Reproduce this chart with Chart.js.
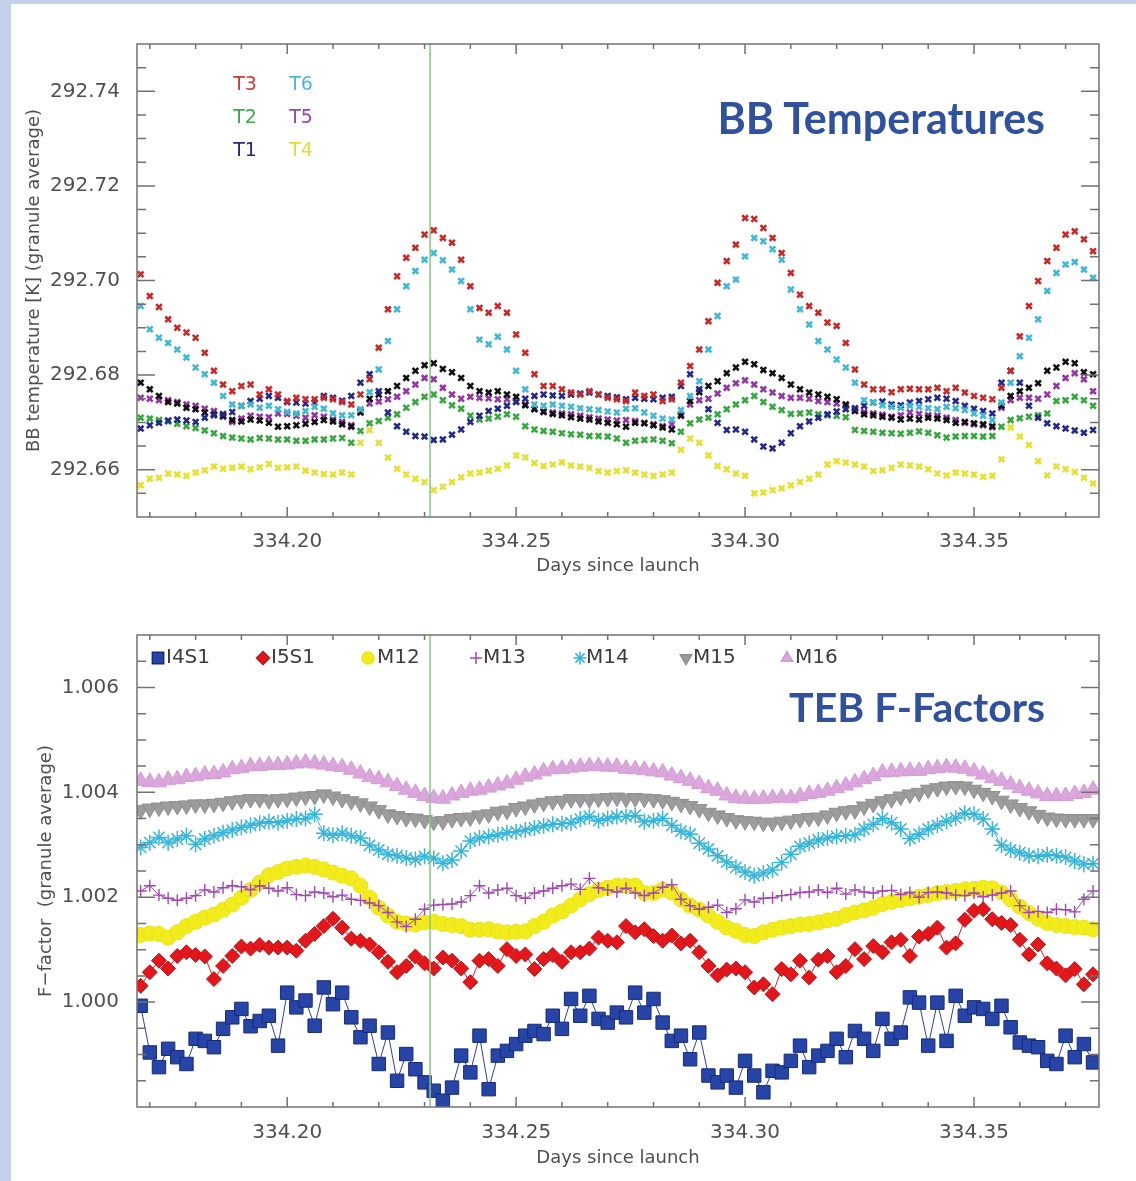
<!DOCTYPE html>
<html>
<head>
<meta charset="utf-8">
<title>BB Temperatures and TEB F-Factors</title>
<script src="https://cdn.jsdelivr.net/npm/chart.js@4.4.1/dist/chart.umd.min.js"></script>
<style>
  html, body { margin: 0; padding: 0; }
  body { width: 1136px; height: 1181px; background: #c5d1ec; position: relative; overflow: hidden; }
  #sheet { position: absolute; left: 11px; top: 4px; right: 0; bottom: 0; background: #fff; }
  canvas { position: absolute; left: 0; }
  .headline { position: absolute; font-family: Lato, sans-serif; font-weight: 700;
              line-height: 1; color: #2f51a0; white-space: nowrap; }
</style>
</head>
<body>
<div id="sheet"></div>
<canvas id="bbChart" width="1136" height="600" style="top:0"></canvas>
<canvas id="ffChart" width="1136" height="581" style="top:600px"></canvas>
<div class="headline" style="right:91px;top:96px;font-size:43px">BB Temperatures</div>
<div class="headline" style="right:91px;top:686px;font-size:41px">TEB F-Factors</div>
<script>
// sample times, days since launch (both panels)
const DAYS = [
  334.168,334.170,334.172,334.174,334.176,334.178,334.180,334.182,334.184,334.186,
  334.188,334.190,334.192,334.194,334.196,334.198,334.200,334.202,334.204,334.206,
  334.208,334.210,334.212,334.214,334.216,334.218,334.220,334.222,334.224,334.226,
  334.228,334.230,334.232,334.234,334.236,334.238,334.240,334.242,334.244,334.246,
  334.248,334.250,334.252,334.254,334.256,334.258,334.260,334.262,334.264,334.266,
  334.268,334.270,334.272,334.274,334.276,334.278,334.280,334.282,334.284,334.286,
  334.288,334.290,334.292,334.294,334.296,334.298,334.300,334.302,334.304,334.306,
  334.308,334.310,334.312,334.314,334.316,334.318,334.320,334.322,334.324,334.326,
  334.328,334.330,334.332,334.334,334.336,334.338,334.340,334.342,334.344,334.346,
  334.348,334.350,334.352,334.354,334.356,334.358,334.360,334.362,334.364,334.366,
  334.368,334.370,334.372,334.374,334.376
];
const MARK_DAY = 334.2312;   // green vertical marker
const X_MIN = 334.1672, X_MAX = 334.3773;

const X_TICKS = [334.20, 334.25, 334.30, 334.35];
const X_MINOR = [334.17,334.18,334.19,334.20,334.21,334.22,334.23,334.24,334.25,334.26,334.27,
                 334.28,334.29,334.30,334.31,334.32,334.33,334.34,334.35,334.36,334.37];
const BB_Y_TICKS = [292.66, 292.68, 292.70, 292.72, 292.74];
const BB_Y_MINOR = [292.655,292.660,292.665,292.670,292.675,292.680,292.685,292.690,292.695,292.700,
                    292.705,292.710,292.715,292.720,292.725,292.730,292.735,292.740,292.745];
const FF_Y_TICKS = [1.000, 1.002, 1.004, 1.006];
const FF_Y_MINOR = [0.9985,0.9990,0.9995,1.0000,1.0005,1.0010,1.0015,1.0020,1.0025,1.0030,
                    1.0035,1.0040,1.0045,1.0050,1.0055,1.0060,1.0065];

// BB temperatures [K], granule average
const BB_T3 = [
  292.7013,292.6967,292.6944,292.6918,292.6900,292.6890,292.6879,292.6847,292.6809,292.6780,
  292.6766,292.6777,292.6780,292.6759,292.6770,292.6759,292.6745,292.6752,292.6749,292.6749,
  292.6752,292.6749,292.6743,292.6738,292.6759,292.6791,292.6858,292.6939,292.7009,292.7048,
  292.7069,292.7097,292.7106,292.7090,292.7080,292.7044,292.6988,292.6942,292.6932,292.6946,
  292.6932,292.6886,292.6847,292.6802,292.6777,292.6777,292.6770,292.6763,292.6759,292.6766,
  292.6759,292.6752,292.6749,292.6745,292.6763,292.6756,292.6759,292.6745,292.6749,292.6784,
  292.6819,292.6854,292.6914,292.6995,292.7041,292.7076,292.7132,292.7130,292.7111,292.7090,
  292.7058,292.7016,292.6970,292.6946,292.6932,292.6911,292.6904,292.6868,292.6812,292.6780,
  292.6770,292.6770,292.6764,292.6770,292.6771,292.6770,292.6770,292.6773,292.6766,292.6773,
  292.6763,292.6756,292.6752,292.6749,292.6773,292.6809,292.6882,292.6946,292.6999,292.7041,
  292.7069,292.7097,292.7104,292.7087,292.7062
];
const BB_T6 = [
  292.6946,292.6897,292.6879,292.6868,292.6854,292.6837,292.6816,292.6802,292.6784,292.6756,
  292.6738,292.6735,292.6738,292.6731,292.6735,292.6728,292.6722,292.6719,292.6724,292.6733,
  292.6729,292.6719,292.6715,292.6715,292.6728,292.6764,292.6812,292.6872,292.6939,292.6988,
  292.7020,292.7044,292.7058,292.7043,292.7023,292.6999,292.6939,292.6875,292.6865,292.6881,
  292.6854,292.6809,292.6770,292.6738,292.6735,292.6738,292.6735,292.6733,292.6730,292.6728,
  292.6726,292.6723,292.6721,292.6729,292.6730,292.6721,292.6714,292.6708,292.6706,292.6726,
  292.6756,292.6787,292.6854,292.6925,292.6988,292.7002,292.7051,292.7090,292.7083,292.7066,
  292.7044,292.6981,292.6939,292.6907,292.6872,292.6854,292.6833,292.6816,292.6784,292.6747,
  292.6742,292.6736,292.6733,292.6731,292.6735,292.6733,292.6730,292.6728,292.6733,292.6730,
  292.6726,292.6719,292.6714,292.6705,292.6742,292.6784,292.6840,292.6879,292.6918,292.6978,
  292.7016,292.7034,292.7039,292.7023,292.7006
];
const BB_TAVG = [
  292.6784,292.6770,292.6756,292.6743,292.6740,292.6731,292.6728,292.6721,292.6717,292.6714,
  292.6705,292.6702,292.6706,292.6704,292.6699,292.6691,292.6692,292.6694,292.6697,292.6701,
  292.6705,292.6702,292.6696,292.6691,292.6721,292.6750,292.6759,292.6766,292.6777,292.6794,
  292.6809,292.6821,292.6825,292.6813,292.6806,292.6794,292.6777,292.6766,292.6763,292.6766,
  292.6759,292.6754,292.6736,292.6728,292.6722,292.6718,292.6715,292.6711,292.6708,292.6706,
  292.6702,292.6699,292.6696,292.6691,292.6699,292.6698,292.6694,292.6689,292.6685,292.6714,
  292.6745,292.6764,292.6777,292.6787,292.6804,292.6816,292.6828,292.6823,292.6811,292.6804,
  292.6794,292.6780,292.6770,292.6763,292.6759,292.6754,292.6749,292.6738,292.6724,292.6717,
  292.6715,292.6712,292.6710,292.6706,292.6708,292.6706,292.6710,292.6708,292.6705,292.6699,
  292.6701,292.6698,292.6696,292.6692,292.6735,292.6756,292.6766,292.6773,292.6783,292.6809,
  292.6816,292.6828,292.6825,292.6806,292.6802
];
const BB_T5 = [
  292.6752,292.6750,292.6747,292.6747,292.6743,292.6738,292.6735,292.6729,292.6724,292.6712,
  292.6701,292.6708,292.6714,292.6712,292.6711,292.6719,292.6718,292.6714,292.6710,292.6715,
  292.6712,292.6706,292.6701,292.6694,292.6724,292.6740,292.6744,292.6749,292.6754,292.6766,
  292.6780,292.6794,292.6791,292.6773,292.6759,292.6750,292.6754,292.6752,292.6751,292.6749,
  292.6749,292.6744,292.6738,292.6729,292.6724,292.6721,292.6719,292.6717,292.6714,292.6711,
  292.6708,292.6706,292.6704,292.6705,292.6703,292.6699,292.6696,292.6692,292.6696,292.6717,
  292.6738,292.6747,292.6750,292.6761,292.6773,292.6783,292.6789,292.6780,292.6770,292.6763,
  292.6756,292.6752,292.6752,292.6750,292.6745,292.6743,292.6740,292.6735,292.6728,292.6722,
  292.6719,292.6716,292.6712,292.6715,292.6721,292.6718,292.6715,292.6714,292.6710,292.6705,
  292.6699,292.6696,292.6694,292.6690,292.6731,292.6747,292.6752,292.6752,292.6750,292.6759,
  292.6777,292.6794,292.6804,292.6791,292.6766
];
const BB_T2 = [
  292.6710,292.6708,292.6705,292.6702,292.6697,292.6692,292.6688,292.6683,292.6677,292.6671,
  292.6668,292.6666,292.6664,292.6667,292.6666,292.6664,292.6664,292.6661,292.6661,292.6664,
  292.6664,292.6666,292.6667,292.6657,292.6682,292.6698,292.6703,292.6710,292.6717,292.6731,
  292.6743,292.6754,292.6759,292.6747,292.6736,292.6729,292.6714,292.6706,292.6708,292.6712,
  292.6717,292.6712,292.6692,292.6685,292.6682,292.6680,292.6677,292.6675,292.6674,292.6671,
  292.6671,292.6670,292.6666,292.6657,292.6661,292.6663,292.6664,292.6661,292.6656,292.6680,
  292.6698,292.6706,292.6710,292.6717,292.6728,292.6738,292.6747,292.6756,292.6743,292.6733,
  292.6726,292.6718,292.6719,292.6721,292.6717,292.6715,292.6714,292.6711,292.6684,292.6682,
  292.6680,292.6678,292.6677,292.6676,292.6678,292.6681,292.6678,292.6673,292.6668,292.6670,
  292.6671,292.6671,292.6670,292.6671,292.6691,292.6705,292.6709,292.6712,292.6715,292.6719,
  292.6745,292.6747,292.6754,292.6747,292.6735
];
const BB_T1 = [
  292.6687,292.6694,292.6699,292.6704,292.6706,292.6704,292.6701,292.6710,292.6715,292.6718,
  292.6722,292.6735,292.6745,292.6750,292.6756,292.6752,292.6743,292.6742,292.6740,292.6742,
  292.6756,292.6752,292.6746,292.6756,292.6784,292.6802,292.6766,292.6721,292.6692,292.6680,
  292.6671,292.6670,292.6663,292.6664,292.6674,292.6685,292.6701,292.6714,292.6724,292.6729,
  292.6735,292.6743,292.6750,292.6756,292.6759,292.6757,292.6756,292.6759,292.6761,292.6763,
  292.6759,292.6756,292.6753,292.6749,292.6752,292.6750,292.6749,292.6752,292.6754,292.6777,
  292.6802,292.6770,292.6728,292.6699,292.6684,292.6685,292.6680,292.6664,292.6649,292.6645,
  292.6657,292.6677,292.6692,292.6702,292.6710,292.6717,292.6723,292.6728,292.6730,292.6735,
  292.6742,292.6744,292.6738,292.6736,292.6742,292.6745,292.6749,292.6752,292.6750,292.6745,
  292.6735,292.6729,292.6724,292.6719,292.6784,292.6809,292.6784,292.6735,292.6710,292.6698,
  292.6692,292.6687,292.6683,292.6678,292.6684
];
const BB_T4 = [
  292.6567,292.6581,292.6583,292.6592,292.6590,292.6587,292.6594,292.6599,292.6607,292.6602,
  292.6604,292.6607,292.6601,292.6605,292.6612,292.6604,292.6605,292.6607,292.6598,292.6594,
  292.6591,292.6590,292.6594,292.6590,292.6657,292.6684,292.6657,292.6626,292.6602,292.6590,
  292.6581,292.6574,292.6557,292.6564,292.6574,292.6584,292.6592,292.6594,292.6598,292.6602,
  292.6609,292.6630,292.6626,292.6614,292.6608,292.6611,292.6616,292.6609,292.6607,292.6604,
  292.6597,292.6594,292.6597,292.6599,292.6594,292.6590,292.6587,292.6590,292.6594,292.6642,
  292.6666,292.6657,292.6630,292.6608,292.6601,292.6592,292.6587,292.6550,292.6552,292.6557,
  292.6561,292.6567,292.6574,292.6581,292.6590,292.6611,292.6618,292.6615,292.6611,292.6607,
  292.6597,292.6599,292.6604,292.6611,292.6609,292.6607,292.6601,292.6592,292.6588,292.6594,
  292.6592,292.6590,292.6585,292.6587,292.6622,292.6689,292.6670,292.6652,292.6618,292.6588,
  292.6607,292.6601,292.6595,292.6583,292.6571
];

// TEB F-factors, granule average
const FF_I4S1 = [
  0.99993,0.99904,0.99876,0.99911,0.99895,0.99882,0.99930,0.99926,0.99914,0.99949,
  0.99971,0.99987,0.99954,0.99964,0.99974,0.99917,1.00018,0.99990,1.00003,0.99955,
  1.00028,0.99996,1.00018,0.99971,0.99933,0.99955,0.99882,0.99942,0.99850,0.99901,
  0.99872,0.99847,0.99831,0.99812,0.99837,0.99898,0.99866,0.99936,0.99834,0.99898,
  0.99907,0.99920,0.99936,0.99945,0.99939,0.99974,0.99949,1.00006,0.99974,1.00012,
  0.99968,0.99961,0.99980,0.99971,1.00018,0.99980,1.00006,0.99961,0.99926,0.99936,
  0.99891,0.99942,0.99860,0.99847,0.99860,0.99837,0.99888,0.99860,0.99828,0.99869,
  0.99866,0.99888,0.99917,0.99876,0.99898,0.99907,0.99930,0.99895,0.99945,0.99930,
  0.99907,0.99968,0.99930,0.99942,1.00009,0.99999,0.99917,0.99999,0.99926,1.00012,
  0.99974,0.99990,0.99987,0.99968,0.99993,0.99952,0.99923,0.99917,0.99914,0.99888,
  0.99882,0.99936,0.99895,0.99920,0.99885
];
const FF_I5S1 = [
  1.00031,1.00057,1.00079,1.00064,1.00088,1.00095,1.00090,1.00087,1.00044,1.00069,
  1.00088,1.00106,1.00102,1.00109,1.00104,1.00104,1.00104,1.00098,1.00117,1.00130,
  1.00145,1.00159,1.00142,1.00121,1.00117,1.00110,1.00095,1.00077,1.00057,1.00069,
  1.00087,1.00074,1.00064,1.00085,1.00079,1.00064,1.00038,1.00079,1.00082,1.00069,
  1.00101,1.00088,1.00091,1.00063,1.00082,1.00090,1.00077,1.00095,1.00095,1.00102,
  1.00123,1.00117,1.00114,1.00145,1.00133,1.00139,1.00126,1.00117,1.00127,1.00112,
  1.00117,1.00095,1.00069,1.00051,1.00062,1.00064,1.00057,1.00028,1.00034,1.00015,
  1.00063,1.00053,1.00079,1.00047,1.00081,1.00088,1.00057,1.00069,1.00101,1.00082,
  1.00107,1.00095,1.00114,1.00119,1.00088,1.00125,1.00130,1.00142,1.00104,1.00112,
  1.00157,1.00174,1.00177,1.00158,1.00151,1.00147,1.00119,1.00091,1.00110,1.00074,
  1.00064,1.00051,1.00063,1.00034,1.00053
];
const FF_M12 = [
  1.00128,1.00131,1.00130,1.00123,1.00133,1.00145,1.00153,1.00161,1.00167,1.00176,
  1.00186,1.00199,1.00214,1.00228,1.00242,1.00248,1.00255,1.00258,1.00260,1.00258,
  1.00253,1.00247,1.00241,1.00236,1.00222,1.00199,1.00180,1.00165,1.00153,1.00150,
  1.00148,1.00152,1.00153,1.00149,1.00147,1.00145,1.00138,1.00138,1.00139,1.00135,
  1.00133,1.00134,1.00135,1.00145,1.00153,1.00165,1.00173,1.00184,1.00196,1.00206,
  1.00214,1.00218,1.00222,1.00222,1.00222,1.00208,1.00208,1.00215,1.00209,1.00196,
  1.00184,1.00176,1.00165,1.00153,1.00142,1.00136,1.00128,1.00126,1.00133,1.00138,
  1.00142,1.00145,1.00148,1.00149,1.00152,1.00156,1.00159,1.00166,1.00171,1.00175,
  1.00180,1.00187,1.00191,1.00195,1.00198,1.00201,1.00204,1.00208,1.00210,1.00212,
  1.00215,1.00216,1.00218,1.00217,1.00209,1.00196,1.00182,1.00170,1.00159,1.00151,
  1.00147,1.00145,1.00143,1.00142,1.00139
];
const FF_M13 = [
  1.00212,1.00222,1.00204,1.00198,1.00194,1.00198,1.00203,1.00214,1.00210,1.00218,
  1.00222,1.00220,1.00214,1.00222,1.00217,1.00212,1.00218,1.00205,1.00203,1.00210,
  1.00208,1.00201,1.00204,1.00196,1.00194,1.00189,1.00184,1.00171,1.00153,1.00144,
  1.00158,1.00177,1.00185,1.00186,1.00187,1.00191,1.00203,1.00222,1.00208,1.00214,
  1.00217,1.00203,1.00198,1.00208,1.00212,1.00217,1.00222,1.00225,1.00215,1.00236,
  1.00218,1.00214,1.00210,1.00217,1.00208,1.00203,1.00208,1.00219,1.00224,1.00196,
  1.00184,1.00177,1.00181,1.00185,1.00171,1.00178,1.00195,1.00191,1.00198,1.00199,
  1.00203,1.00205,1.00209,1.00210,1.00214,1.00209,1.00217,1.00206,1.00214,1.00210,
  1.00208,1.00212,1.00213,1.00205,1.00209,1.00200,1.00209,1.00210,1.00208,1.00204,
  1.00203,1.00208,1.00201,1.00204,1.00208,1.00212,1.00184,1.00171,1.00173,1.00171,
  1.00177,1.00176,1.00172,1.00196,1.00212
];
const FF_M14 = [
  1.00295,1.00304,1.00314,1.00304,1.00311,1.00317,1.00301,1.00311,1.00317,1.00323,
  1.00328,1.00333,1.00337,1.00341,1.00344,1.00342,1.00346,1.00349,1.00350,1.00358,
  1.00322,1.00318,1.00322,1.00317,1.00313,1.00299,1.00290,1.00282,1.00279,1.00275,
  1.00272,1.00278,1.00274,1.00265,1.00271,1.00288,1.00307,1.00313,1.00316,1.00319,
  1.00323,1.00325,1.00328,1.00332,1.00336,1.00339,1.00340,1.00342,1.00349,1.00354,
  1.00346,1.00350,1.00354,1.00354,1.00356,1.00344,1.00346,1.00350,1.00337,1.00326,
  1.00320,1.00303,1.00292,1.00279,1.00267,1.00257,1.00248,1.00241,1.00246,1.00252,
  1.00266,1.00282,1.00297,1.00303,1.00309,1.00313,1.00316,1.00317,1.00319,1.00330,
  1.00339,1.00350,1.00342,1.00330,1.00312,1.00320,1.00330,1.00337,1.00345,1.00351,
  1.00360,1.00358,1.00349,1.00330,1.00299,1.00290,1.00285,1.00279,1.00278,1.00281,
  1.00279,1.00276,1.00269,1.00263,1.00264
];
const FF_M15 = [
  1.00366,1.00369,1.00371,1.00373,1.00374,1.00375,1.00377,1.00377,1.00378,1.00380,
  1.00383,1.00385,1.00387,1.00387,1.00385,1.00387,1.00388,1.00390,1.00392,1.00393,
  1.00396,1.00392,1.00387,1.00383,1.00379,1.00373,1.00366,1.00358,1.00355,1.00351,
  1.00350,1.00347,1.00344,1.00345,1.00349,1.00351,1.00352,1.00356,1.00358,1.00363,
  1.00365,1.00370,1.00373,1.00377,1.00380,1.00383,1.00384,1.00387,1.00387,1.00387,
  1.00388,1.00389,1.00390,1.00388,1.00389,1.00388,1.00387,1.00385,1.00382,1.00378,
  1.00374,1.00368,1.00361,1.00356,1.00351,1.00347,1.00345,1.00344,1.00342,1.00342,
  1.00344,1.00346,1.00349,1.00351,1.00352,1.00356,1.00361,1.00364,1.00366,1.00373,
  1.00378,1.00383,1.00387,1.00392,1.00396,1.00399,1.00405,1.00408,1.00411,1.00412,
  1.00411,1.00405,1.00399,1.00393,1.00384,1.00377,1.00370,1.00364,1.00357,1.00352,
  1.00350,1.00349,1.00349,1.00349,1.00349
];
const FF_M16 = [
  1.00422,1.00420,1.00419,1.00424,1.00425,1.00429,1.00431,1.00434,1.00435,1.00438,
  1.00444,1.00446,1.00450,1.00450,1.00452,1.00452,1.00453,1.00455,1.00457,1.00455,
  1.00453,1.00450,1.00448,1.00443,1.00436,1.00429,1.00425,1.00419,1.00412,1.00405,
  1.00399,1.00393,1.00389,1.00388,1.00394,1.00399,1.00403,1.00405,1.00409,1.00413,
  1.00417,1.00424,1.00430,1.00434,1.00440,1.00444,1.00445,1.00447,1.00449,1.00450,
  1.00450,1.00449,1.00449,1.00445,1.00444,1.00443,1.00440,1.00438,1.00432,1.00427,
  1.00422,1.00416,1.00408,1.00403,1.00394,1.00389,1.00388,1.00387,1.00388,1.00389,
  1.00390,1.00389,1.00393,1.00397,1.00399,1.00403,1.00408,1.00413,1.00419,1.00425,
  1.00431,1.00438,1.00439,1.00440,1.00441,1.00441,1.00444,1.00446,1.00448,1.00447,
  1.00445,1.00440,1.00434,1.00427,1.00422,1.00415,1.00408,1.00403,1.00398,1.00393,
  1.00393,1.00393,1.00397,1.00399,1.00405
];

const TICK_FONT = {family: 'DejaVu Sans', size: 20};
const TITLE_FONT = {family: 'DejaVu Sans', size: 18};
const TEXT_GREY = '#4f4f4f';
const AXIS_GREY = '#727272';

function pts(values) {
    return values.map((v, i) => ({x: DAYS[i], y: v}));
}

// IDL style frame: box with inward ticks on every side, marker line, legend inside the plot
const idlFrame = {
    id: 'idlFrame',
    afterDatasetsDraw(chart, args, opts) {
        const ctx = chart.ctx;
        const a = chart.chartArea;
        const xs = chart.scales.x, ys = chart.scales.y;
        ctx.save();

        const mx = xs.getPixelForValue(MARK_DAY);
        ctx.strokeStyle = '#86c686';
        ctx.lineWidth = 1.5;
        ctx.beginPath();
        ctx.moveTo(mx, a.top);
        ctx.lineTo(mx, a.bottom);
        ctx.stroke();

        ctx.strokeStyle = AXIS_GREY;
        ctx.lineWidth = 1.5;
        ctx.strokeRect(a.left, a.top, a.right - a.left, a.bottom - a.top);
        ctx.beginPath();
        const xt = (vals, len) => vals.forEach(v => {
            const px = xs.getPixelForValue(v);
            if (px <= a.left || px >= a.right) return;
            ctx.moveTo(px, a.bottom); ctx.lineTo(px, a.bottom - len);
            ctx.moveTo(px, a.top); ctx.lineTo(px, a.top + len);
        });
        const yt = (vals, len) => vals.forEach(v => {
            const py = ys.getPixelForValue(v);
            if (py <= a.top || py >= a.bottom) return;
            ctx.moveTo(a.left, py); ctx.lineTo(a.left + len, py);
            ctx.moveTo(a.right, py); ctx.lineTo(a.right - len, py);
        });
        xt(X_TICKS, 10);
        xt(X_MINOR, 5);
        yt(opts.yMajor, 18);
        yt(opts.yMinor, 9);
        ctx.stroke();

        // coloured names only (top panel)
        if (opts.names) {
            ctx.font = '19px "DejaVu Sans"';
            ctx.textAlign = 'center';
            ctx.textBaseline = 'middle';
            opts.names.forEach(n => {
                ctx.fillStyle = n.color;
                ctx.fillText(n.text, n.x, n.y);
            });
        }
        // symbol + name (bottom panel)
        if (opts.keys) {
            ctx.font = '20px "DejaVu Sans"';
            ctx.textAlign = 'left';
            ctx.textBaseline = 'middle';
            opts.keys.forEach(k => {
                const ds = chart.data.datasets.find(d => d.label === k.label);
                ctx.fillStyle = ds.pointBackgroundColor || ds.borderColor;
                ctx.strokeStyle = ds.pointBorderColor || ds.borderColor;
                ctx.lineWidth = 1.5;
                if (Chart.helpers && Chart.helpers.drawPoint) {
                    Chart.helpers.drawPoint(ctx, {
                        pointStyle: ds.pointStyle, rotation: ds.pointRotation || 0,
                        radius: k.r, borderWidth: 1.5
                    }, k.x, opts.keyY);
                }
                ctx.fillStyle = '#3c3c3c';
                ctx.fillText(ds.label, k.tx, opts.keyY);
            });
        }
        ctx.restore();
    }
};

function bbSet(label, values, color) {
    return {
        label: label,
        data: pts(values),
        showLine: false,
        pointStyle: 'crossRot',
        pointRadius: 4,
        pointBorderWidth: 2.6,
        pointHoverRadius: 0,
        borderColor: color,
        backgroundColor: color
    };
}

function ffSet(label, values, look) {
    return Object.assign({
        label: label,
        data: pts(values),
        showLine: true,
        borderWidth: 1,
        tension: 0,
        pointBorderWidth: 1,
        pointHoverRadius: 0
    }, look);
}

function xAxis(height, tickPad, titlePad) {
    return {
        type: 'linear', min: X_MIN, max: X_MAX,
        grid: {display: false}, border: {display: false},
        afterBuildTicks: s => { s.ticks = X_TICKS.map(v => ({value: v})); },
        afterFit: s => { s.height = height; },
        ticks: {font: TICK_FONT, color: TEXT_GREY, padding: tickPad, maxRotation: 0, autoSkip: false,
                callback: v => v.toFixed(2)},
        title: {display: true, text: 'Days since launch', font: TITLE_FONT, color: TEXT_GREY,
                padding: {top: 0, bottom: titlePad}}
    };
}

function yAxis(min, max, ticks, digits, title, titlePad, tickPad) {
    return {
        type: 'linear', min: min, max: max,
        grid: {display: false}, border: {display: false},
        afterBuildTicks: s => { s.ticks = ticks.map(v => ({value: v})); },
        afterFit: s => { s.width = 137; },
        ticks: {font: TICK_FONT, color: TEXT_GREY, padding: tickPad, autoSkip: false,
                callback: v => v.toFixed(digits)},
        title: {display: true, text: title, font: TITLE_FONT, color: TEXT_GREY,
                padding: {top: titlePad, bottom: 0}}
    };
}

const bbChart = new Chart(document.getElementById('bbChart'), {
    type: 'line',
    data: {
        datasets: [
            bbSet('T3', BB_T3, '#cc2626'),
            bbSet('T6', BB_T6, '#3db8d6'),
            bbSet('T1', BB_T1, '#24288c'),
            bbSet('Tavg', BB_TAVG, '#111111'),
            bbSet('T5', BB_T5, '#9534a6'),
            bbSet('T2', BB_T2, '#34a83c'),
            bbSet('T4', BB_T4, '#e6e02c')
        ]
    },
    options: {
        responsive: false,
        animation: false,
        devicePixelRatio: 1,
        layout: {padding: {top: 44, right: 37, left: 0, bottom: 0}},
        plugins: {
            legend: {display: false},
            tooltip: {enabled: false},
            idlFrame: {
                yMajor: BB_Y_TICKS, yMinor: BB_Y_MINOR,
                names: [
                    {text: 'T3', color: '#d23a3a', x: 245, y: 85},
                    {text: 'T6', color: '#48bcd0', x: 301, y: 85},
                    {text: 'T2', color: '#3aaa4a', x: 245, y: 118},
                    {text: 'T5', color: '#9a48a8', x: 301, y: 118},
                    {text: 'T1', color: '#272a7c', x: 245, y: 151},
                    {text: 'T4', color: '#e2dc3a', x: 301, y: 151}
                ]
            }
        },
        scales: {
            x: xAxis(83, 5, 23),
            y: yAxis(292.65, 292.75, BB_Y_TICKS, 2, 'BB temperature [K] (granule average)', 24, 9)
        }
    },
    plugins: [idlFrame]
});

const ffChart = new Chart(document.getElementById('ffChart'), {
    type: 'line',
    data: {
        datasets: [
            ffSet('I4S1', FF_I4S1, {pointStyle: 'rect', pointRadius: 9.5, borderColor: '#2b3f9c',
                                   pointBackgroundColor: '#2745a6', pointBorderColor: '#162a7c'}),
            ffSet('I5S1', FF_I5S1, {pointStyle: 'rectRot', pointRadius: 7.5, borderColor: '#d42020',
                                   pointBackgroundColor: '#e3161b', pointBorderColor: '#c01313'}),
            ffSet('M13', FF_M13, {pointStyle: 'cross', pointRadius: 6, borderColor: '#a347b4',
                                 pointBorderColor: '#a347b4', pointBorderWidth: 1.4}),
            ffSet('M12', FF_M12, {pointStyle: 'circle', pointRadius: 7.5, borderColor: '#f0ea14',
                                 pointBackgroundColor: '#f2ec1c', pointBorderColor: '#ebe312'}),
            ffSet('M14', FF_M14, {pointStyle: 'star', pointRadius: 8, borderColor: '#36b5da',
                                 pointBorderColor: '#36b5da', pointBorderWidth: 1.5}),
            ffSet('M15', FF_M15, {pointStyle: 'triangle', pointRotation: 180, pointRadius: 9,
                                 borderColor: '#9a9a9a', pointBackgroundColor: '#9c9c9c',
                                 pointBorderColor: '#8e8e8e'}),
            ffSet('M16', FF_M16, {pointStyle: 'triangle', pointRadius: 9, borderColor: '#d9a3da',
                                 pointBackgroundColor: '#dba6dc', pointBorderColor: '#d49bd6'})
        ]
    },
    options: {
        responsive: false,
        animation: false,
        devicePixelRatio: 1,
        layout: {padding: {top: 35, right: 37, left: 0, bottom: 0}},
        plugins: {
            legend: {display: false},
            tooltip: {enabled: false},
            idlFrame: {
                yMajor: FF_Y_TICKS, yMinor: FF_Y_MINOR,
                keyY: 58,
                keys: [
                    {label: 'I4S1', x: 158, r: 8, tx: 166},
                    {label: 'I5S1', x: 263, r: 6.5, tx: 271},
                    {label: 'M12', x: 368, r: 6, tx: 377},
                    {label: 'M13', x: 476, r: 6, tx: 483},
                    {label: 'M14', x: 580, r: 6.5, tx: 586},
                    {label: 'M15', x: 686, r: 6.5, tx: 693},
                    {label: 'M16', x: 787, r: 6.5, tx: 795}
                ]
            }
        },
        scales: {
            x: xAxis(74, 6, 12),
            y: yAxis(0.998, 1.007, FF_Y_TICKS, 3, 'F\u2212factor  (granule average)', 36, 10)
        }
    },
    plugins: [idlFrame]
});
</script>
</body>
</html>
